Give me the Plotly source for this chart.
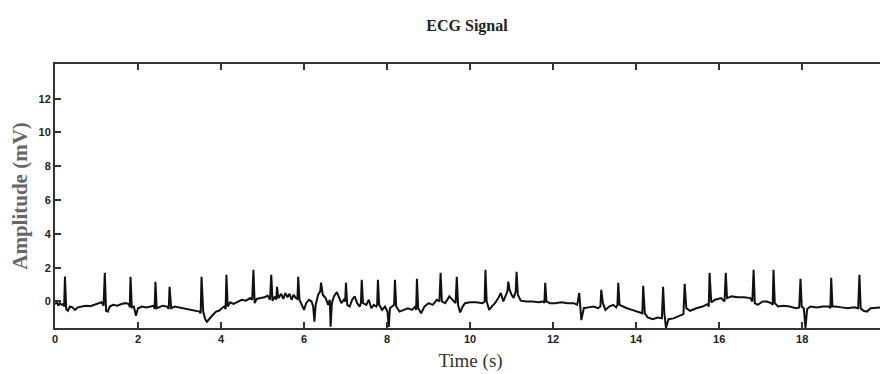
import plotly.graph_objects as go

# ECG samples (time in s, amplitude in mV)
time_a = [0.00, 0.05, 0.08, 0.12, 0.16, 0.20, 0.22, 0.24, 0.27, 0.31, 0.36, 0.42, 0.48, 0.55, 0.65, 0.75,
          0.85, 0.95, 1.05, 1.12, 1.17, 1.20, 1.23, 1.27, 1.32, 1.40, 1.50, 1.60, 1.70, 1.78, 1.80, 1.82,
          1.85, 1.90, 1.95, 2.00, 2.10, 2.20, 2.30, 2.38, 2.40, 2.42, 2.45, 2.52, 2.60, 2.70, 2.74, 2.76,
          2.80, 2.88, 2.98, 3.10, 3.20, 3.30, 3.40, 3.48, 3.51, 3.53, 3.57, 3.62, 3.66, 3.72, 3.80, 3.88,
          3.95, 4.02, 4.08, 4.11, 4.13, 4.16, 4.22, 4.30, 4.40, 4.50, 4.60, 4.70, 4.75, 4.78, 4.81, 4.86,
          4.95]
amp_a = [-0.15, -0.05, -0.25, -0.10, -0.20, -0.15, -0.30, 1.48, -0.45, -0.55, -0.30, -0.35, -0.50, -0.35, -0.30, -0.25,
         -0.28, -0.20, -0.15, -0.05, -0.25, 1.70, -0.55, -0.60, -0.30, -0.20, -0.25, -0.15, -0.10, -0.15, -0.35, 1.46,
         -0.35, -0.30, -0.85, -0.40, -0.30, -0.35, -0.30, -0.25, -0.45, 1.17, -0.40, -0.35, -0.25, -0.30, -0.45, 0.87,
         -0.40, -0.30, -0.35, -0.40, -0.45, -0.50, -0.55, -0.60, -0.70, 1.46, -0.60, -1.05, -1.20, -1.00, -0.80, -0.60,
         -0.55, -0.40, -0.30, -0.45, 1.58, -0.30, -0.05, -0.15, 0.00, 0.10, 0.05, 0.20, 0.10, 1.88, -0.10, 0.15,
         0.20]

time_b = [5.05, 5.12, 5.18, 5.21, 5.24, 5.30, 5.33, 5.35, 5.38, 5.45, 5.50, 5.55, 5.60, 5.65, 5.70, 5.75,
          5.80, 5.84, 5.86, 5.89, 5.95, 6.00, 6.05, 6.12, 6.18, 6.22, 6.25, 6.28, 6.34, 6.39, 6.41, 6.45,
          6.52, 6.58, 6.62, 6.64, 6.67, 6.72, 6.79, 6.84, 6.90, 6.96, 6.99, 7.01, 7.04, 7.10, 7.16, 7.22,
          7.28, 7.34, 7.37, 7.39, 7.42, 7.50, 7.56, 7.62, 7.68, 7.74, 7.76, 7.78, 7.81, 7.88, 7.95, 8.01,
          8.04, 8.07, 8.13, 8.17, 8.19, 8.22, 8.30, 8.40, 8.50, 8.60, 8.68, 8.70, 8.72, 8.75, 8.82, 8.90,
          9.00, 9.10, 9.20, 9.26, 9.29, 9.32, 9.40, 9.50, 9.58, 9.65, 9.68, 9.71, 9.76, 9.82, 9.88]
amp_b = [0.25, 0.35, 0.10, 1.58, 0.05, 0.30, 0.10, 0.87, 0.20, 0.45, 0.15, 0.50, 0.25, 0.45, 0.10, 0.40,
         0.20, 0.15, 1.46, 0.10, -0.20, -0.50, -0.10, 0.10, 0.00, -0.30, -1.20, -0.20, 0.40, 0.60, 1.11, 0.40,
         0.20, -0.20, 0.10, -1.50, -0.10, 0.30, 0.55, 0.20, -0.10, 0.10, 0.00, 1.11, -0.20, -0.30, 0.10, 0.30,
         -0.10, -0.30, -0.10, 1.28, -0.10, -0.20, 0.10, -0.40, -0.20, -0.30, -0.20, 1.28, -0.20, -0.50, -0.30, -0.60,
         -1.50, -0.40, -0.30, -0.20, 1.28, -0.30, -0.60, -0.50, -0.40, -0.50, -0.30, -0.50, 1.34, -0.40, -0.70, -0.30,
         -0.10, -0.20, 0.10, 0.00, 1.70, 0.00, -0.10, 0.30, 0.10, -0.10, 1.46, -0.20, -0.65, -0.30, -0.10]

time_c = [10.00, 10.15, 10.30, 10.35, 10.37, 10.40, 10.46, 10.52, 10.60, 10.68, 10.74, 10.80, 10.86, 10.90,
          10.92, 10.95, 11.00, 11.05, 11.10, 11.12, 11.15, 11.22, 11.35, 11.50, 11.65, 11.77, 11.79, 11.81,
          11.84, 11.92, 12.05, 12.20, 12.35, 12.50, 12.58, 12.63, 12.68, 12.74, 12.85, 12.98, 13.08, 13.14,
          13.16, 13.20, 13.26, 13.35, 13.45, 13.52, 13.55, 13.57, 13.60, 13.68, 13.78, 13.90, 14.05, 14.15,
          14.17, 14.21, 14.28, 14.40, 14.52, 14.62, 14.65, 14.68, 14.72, 14.78, 14.90]
amp_c = [-0.05, -0.05, -0.10, 0.00, 1.88, 0.00, -0.50, -0.30, -0.10, 0.20, 0.50, 0.00, 0.30, 0.60,
         1.17, 0.70, 0.40, 0.20, 0.60, 1.76, 0.40, 0.05, 0.00, 0.00, -0.05, 0.00, -0.10, 1.11,
         0.00, -0.10, -0.10, -0.05, -0.10, -0.10, -0.20, 0.50, -1.10, -0.40, -0.35, -0.30, -0.40, -0.30,
         0.69, -0.10, -0.50, -0.30, -0.20, -0.35, -0.20, 1.11, -0.20, -0.30, -0.40, -0.50, -0.60, -0.70,
         0.93, -0.70, -0.95, -1.05, -0.95, -1.00, 0.87, -0.70, -1.56, -1.05, -1.00]

time_d = [15.05, 15.14, 15.17, 15.21, 15.30, 15.45, 15.60, 15.72, 15.75, 15.77, 15.81, 15.90, 16.05, 16.13,
          16.16, 16.19, 16.30, 16.45, 16.60, 16.75, 16.80, 16.83, 16.86, 16.93, 17.05, 17.15, 17.25, 17.29,
          17.31, 17.34, 17.42, 17.55, 17.70, 17.85, 17.93, 17.96, 17.99, 18.04, 18.08, 18.12, 18.20, 18.35,
          18.50, 18.65, 18.68, 18.70, 18.73, 18.80, 18.95, 19.10, 19.25, 19.35, 19.38, 19.41, 19.48, 19.56,
          19.65, 19.80, 19.92, 20.00]
amp_d = [-0.85, -0.75, 1.05, -0.40, -0.55, -0.40, -0.30, -0.15, -0.30, 1.70, -0.05, 0.10, 0.20, 0.00,
         1.70, 0.20, 0.30, 0.25, 0.25, 0.20, 0.00, 1.88, -0.10, -0.20, 0.00, 0.00, -0.10, -0.20,
         1.88, -0.10, -0.30, -0.25, -0.30, -0.40, -0.35, 1.34, -0.30, -0.40, -1.56, -0.45, -0.30, -0.35,
         -0.30, -0.30, -0.40, 1.40, -0.30, -0.30, -0.35, -0.40, -0.35, -0.40, 1.58, -0.40, -0.55, -0.60,
         -0.40, -0.35, -0.35, -0.40]

time_s = time_a + time_b + time_c + time_d
amp_mv = amp_a + amp_b + amp_c + amp_d

x_ticks = [0, 2, 4, 6, 8, 10, 12, 14, 16, 18, 20]
y_ticks = [0, 2, 4, 6, 8, 10, 12]

fig = go.Figure()
fig.add_trace(go.Scatter(x=time_s, y=amp_mv, mode="lines",
                         line=dict(color="#111111", width=2), showlegend=False))

tick_font = dict(family="Liberation Sans Narrow, Liberation Sans, Arial", size=11,
                 color="#222222", weight="bold")

W, H = 880, 366  # page body adds an 8px offset inside the 888x374 window

fig.update_layout(
    width=W, height=H,
    margin=dict(l=47, r=0, t=56, b=46),
    paper_bgcolor="white", plot_bgcolor="white",
    title=dict(text="ECG Signal", x=459 / W, xanchor="center", y=1 - 17 / H, yanchor="middle",
               font=dict(family="Liberation Serif, Times New Roman, serif", size=16,
                         color="#222222", weight="bold")),
    xaxis=dict(range=[0, 20.02], tickvals=x_ticks, ticktext=[str(v) for v in x_ticks],
               ticks="inside", ticklen=6, tickwidth=1.5, tickcolor="#333333",
               showline=True, linewidth=2, linecolor="#333333", mirror="ticks",
               showgrid=False, zeroline=False, tickfont=tick_font,
               title=dict(text="Time (s)", standoff=9,
                          font=dict(family="Liberation Serif, Times New Roman, serif",
                                    size=19, color="#333333"))),
    yaxis=dict(range=[-1.57, 14.05], tickvals=y_ticks, ticktext=[str(v) for v in y_ticks],
               ticks="inside", ticklen=6, tickwidth=1.5, tickcolor="#333333",
               showline=True, linewidth=2, linecolor="#333333", mirror="ticks",
               showgrid=False, zeroline=False, tickfont=tick_font,
               title=dict(text="Amplitude (mV)", standoff=8,
                          font=dict(family="Liberation Serif, Times New Roman, serif",
                                    size=21, color="#666666", weight="bold"))),
)

fig.write_html("out.html")
